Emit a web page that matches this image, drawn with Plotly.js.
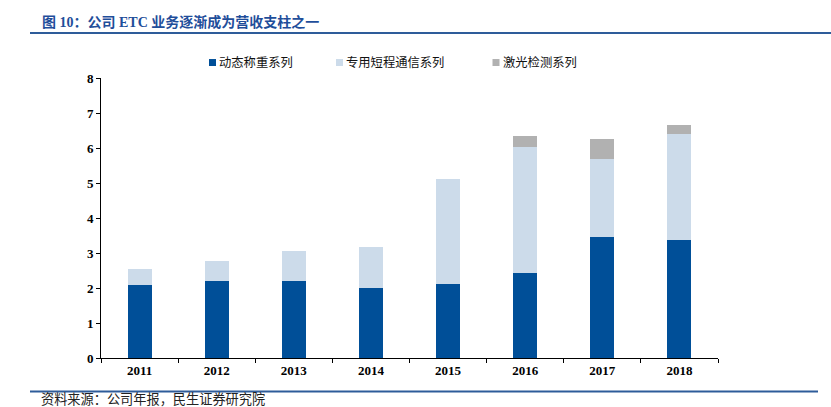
<!DOCTYPE html>
<html>
<head>
<meta charset="utf-8">
<script src="https://cdn.plot.ly/plotly-3.0.1.min.js"></script>
<style>html,body{margin:0;padding:0;background:#fff;}#chart{width:831px;height:407px;}</style>
</head>
<body>
<div id="chart"></div>
<script>
// Data
var years = ['2011', '2012', '2013', '2014', '2015', '2016', '2017', '2018'];
var seriesNames = ['动态称重系列', '专用短程通信系列', '激光检测系列'];
var weighing = [2.09, 2.20, 2.20, 2.00, 2.11, 2.42, 3.47, 3.37];
var dsrc = [0.45, 0.57, 0.86, 1.17, 3.00, 3.62, 2.21, 3.02];
var laser = [0, 0, 0, 0, 0, 0.31, 0.59, 0.28];
var yTicks = [0, 1, 2, 3, 4, 5, 6, 7, 8];
var titleText = '图 10：公司 ETC 业务逐渐成为营收支柱之一';
var sourceText = '资料来源：公司年报，民生证券研究院';

var W = 831, H = 407;
var L = 101, R = 718, T = 78, B = 358.5;
function px(x) { return (x - L) / (R - L); }
function py(y) { return (B - y) / (B - T); }

var colors = ['#004f98', '#ccdbea', '#b1b1b1'];
var vals = [weighing, dsrc, laser];
var traces = vals.map(function (v, i) {
  return {
    type: 'bar', x: years, y: v, name: seriesNames[i],
    marker: { color: colors[i], line: { width: 0 } },
    hoverinfo: 'x+y+name', showlegend: false
  };
});

// legend drawn as squares + text (layout positions in pixels)
var legendSquareX = [209, 336, 492.5];
var legendY = 62.5;
var legendShapes = [], legendAnn = [];
seriesNames.forEach(function (n, i) {
  var x0 = legendSquareX[i];
  legendShapes.push({ type: 'rect', xref: 'paper', yref: 'paper',
    x0: px(x0), x1: px(x0 + 7), y0: py(legendY - 3.5), y1: py(legendY + 3.5),
    fillcolor: colors[i], line: { width: 0 } });
  legendAnn.push({ xref: 'paper', yref: 'paper', x: px(x0 + 8), y: py(legendY - 0.5),
    xanchor: 'left', yanchor: 'middle', showarrow: false, text: n,
    font: { family: 'Noto Sans CJK SC, sans-serif', size: 12.3, color: '#111' } });
});

var tickFont = { family: 'Liberation Serif, Times New Roman, serif', size: 13, color: '#000', weight: 'bold' };
var layout = {
  width: W, height: H,
  margin: { l: L, r: W - R, t: T, b: H - B, pad: 0 },
  paper_bgcolor: '#fff', plot_bgcolor: '#fff',
  barmode: 'stack', bargap: 0.69,
  title: {
    text: '<b>' + titleText + '</b>',
    font: { family: 'Liberation Serif, Noto Sans CJK SC, serif', size: 14, color: '#1f4e9a' },
    x: 42 / W, xref: 'container', xanchor: 'left',
    y: 1 - 22 / H, yref: 'container', yanchor: 'middle'
  },
  showlegend: false,
  xaxis: {
    type: 'category', showgrid: false, zeroline: false,
    showline: true, linecolor: '#000', linewidth: 1,
    ticks: 'outside', tickson: 'boundaries', ticklen: 4, tickcolor: '#000',
    tickfont: tickFont, fixedrange: true
  },
  yaxis: {
    range: [0, 8], tickvals: yTicks, showgrid: false, zeroline: false,
    showline: true, linecolor: '#000', linewidth: 1,
    ticks: 'outside', ticklen: 4, tickcolor: '#000',
    tickfont: tickFont, fixedrange: true
  },
  shapes: [
    { type: 'line', xref: 'paper', yref: 'paper', x0: px(30), x1: px(831), y0: py(33), y1: py(33), line: { color: '#2e5c9a', width: 2 } },
    { type: 'line', xref: 'paper', yref: 'paper', x0: px(30), x1: px(818), y0: py(392), y1: py(392), line: { color: '#2e5c9a', width: 2 } }
  ].concat(legendShapes),
  annotations: [
    { xref: 'paper', yref: 'paper', x: px(39), y: py(399), xanchor: 'left', yanchor: 'middle', showarrow: false,
      text: sourceText, font: { family: 'Noto Sans CJK SC, sans-serif', size: 13.2, color: '#222' } }
  ].concat(legendAnn)
};

Plotly.newPlot('chart', traces, layout, { displayModeBar: false, staticPlot: true });
</script>
</body>
</html>
